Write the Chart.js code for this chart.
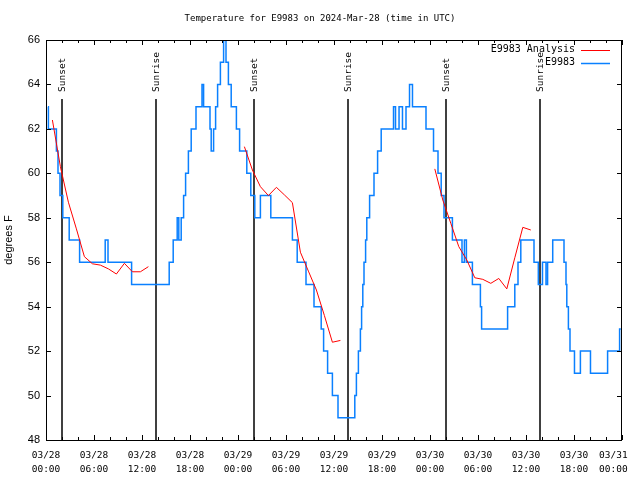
<!DOCTYPE html>
<html><head><meta charset="utf-8">
<script src="https://cdn.jsdelivr.net/npm/chart.js@4"></script>
<style>html,body{margin:0;padding:0;background:#fff}#wrap{width:640px;height:480px}</style>
</head><body><div id="wrap"><canvas id="c" width="640" height="480"></canvas></div>
<script>
const titleText = 'Temperature for E9983 on 2024-Mar-28 (time in UTC)';
const yAxisTitle = 'degrees F';
const tickDates = ['03/28','03/28','03/28','03/28','03/29','03/29','03/29','03/29','03/30','03/30','03/30','03/30','03/31'];
const tickTimes = ['00:00','06:00','12:00','18:00','00:00','06:00','12:00','18:00','00:00','06:00','12:00','18:00','00:00'];
// hours since 03/28 00:00 UTC
const sunHours = [2.0, 13.75, 26.0, 37.75, 50.0, 61.75];
const sunLabels = ['Sunset','Sunrise','Sunset','Sunrise','Sunset','Sunrise'];

const analysisLabel = 'E9983 Analysis';
const analysisHours = [0.8,1.8,2.8,3.8,4.8,5.8,6.8,7.8,8.8,9.8,10.8,11.8,12.8, 18,
  24.8,25.8,26.8,27.8,28.8,29.8,30.8,31.8,32.8,33.8,34.8,35.8,36.8, 42,
  48.6,49.6,50.6,51.6,52.6,53.6,54.6,55.6,56.6,57.6,58.6,59.6,60.6];
const analysisTemps = [62.4,60.3,58.7,57.5,56.25,55.93,55.87,55.7,55.47,55.95,55.57,55.57,55.8, null,
  61.2,60.15,59.4,59.0,59.37,59.03,58.68,56.45,55.6,54.75,53.6,52.4,52.48, null,
  60.2,58.8,57.75,56.7,56.1,55.3,55.23,55.05,55.27,54.8,56.2,57.57,57.45];

const obsLabel = 'E9983';
// hour at which each reading level begins
const obsHours = [0.25,0.3,1.3,1.5,1.75,2.1,2.9,4.2,7.4,7.75,10.7,15.4,15.9,16.4,16.6,16.9,17.2,17.45,17.8,18.15,18.75,
  19.5,19.7,20.5,20.65,20.95,21.2,21.45,21.8,22.2,22.5,22.8,23.15,23.8,24.2,25.1,25.6,26.1,26.8,28.1,30.8,31.4,32.5,33.5,
  34.4,34.7,35.2,35.8,36.5,38.6,38.8,39.05,39.3,39.45,39.6,39.75,39.95,40.1,40.45,41.0,41.45,41.9,43.44,43.69,44.13,44.56,
  45.0,45.44,45.81,47.5,48.44,49.0,49.4,49.75,50.8,52.0,52.3,52.55,53.3,54.3,54.45,57.7,58.6,59.0,59.35,61.0,61.54,62.06,
  62.5,62.7,63.34,64.75,65.0,65.1,65.3,65.5,66.06,66.8,68.06,70.2,71.7,71.85];
const obsTemps = [63,62,61,60,59,58,57,56,57,56,55,56,57,58,57,58,59,60,61,62,63,
  64,63,62,61,62,63,64,65,66,65,64,63,62,61,60,59,58,59,58,57,56,55,54,
  53,52,51,50,49,50,51,52,53,54,55,56,57,58,59,60,61,62,63,62,63,62,
  63,64,63,62,61,60,59,58,57,56,57,56,55,54,53,54,55,56,57,56,55,56,
  55,56,57,56,55,54,53,52,51,52,51,52,53,53];

const RED = '#ff0000';
const BLUE = '#0a80ff';
const MONO = '"DejaVu Sans Mono", monospace';
const SANS = '"Liberation Sans", Arial, sans-serif';

const decor = {
  id: 'decor',
  beforeDatasetsDraw(chart) {
    const {ctx, chartArea: a, scales: {x}} = chart;
    ctx.save();
    ctx.strokeStyle = '#000';
    ctx.fillStyle = '#000';
    ctx.lineWidth = 1.5;
    ctx.font = '9.5px ' + MONO;
    sunHours.forEach((h, i) => {
      const px = Math.round(x.getPixelForValue(h));
      ctx.beginPath();
      ctx.moveTo(px, a.top + 59);
      ctx.lineTo(px, a.bottom);
      ctx.stroke();
      ctx.save();
      ctx.translate(px + 1, a.top + 52);
      ctx.rotate(-Math.PI / 2);
      ctx.textAlign = 'left';
      ctx.textBaseline = 'middle';
      ctx.fillText(sunLabels[i], 0, 0);
      ctx.restore();
    });
    ctx.restore();
  },
  afterDatasetsDraw(chart) {
    const {ctx, chartArea: a, scales: {x, y}} = chart;
    ctx.save();
    ctx.strokeStyle = '#000';
    ctx.lineWidth = 1;
    ctx.strokeRect(a.left + 0.5, a.top + 0.5, a.right - a.left - 1, a.bottom - a.top);
    ctx.beginPath();
    for (let h = 0; h <= 72; h += 2) {
      const px = Math.round(x.getPixelForValue(h)) + 0.5;
      const len = (h % 6 === 0) ? 5 : 3;
      ctx.moveTo(px, a.bottom); ctx.lineTo(px, a.bottom - len);
      ctx.moveTo(px, a.top); ctx.lineTo(px, a.top + len);
    }
    for (let v = 48; v <= 66; v += 2) {
      const py = Math.round(y.getPixelForValue(v)) + 0.5;
      ctx.moveTo(a.left, py); ctx.lineTo(a.left + 5, py);
      ctx.moveTo(a.right, py); ctx.lineTo(a.right - 5, py);
    }
    ctx.stroke();

    // title
    ctx.fillStyle = '#000';
    ctx.font = '9px ' + MONO;
    ctx.textAlign = 'center';
    ctx.textBaseline = 'middle';
    ctx.fillText(titleText, chart.width / 2, 19);

    // legend
    ctx.font = '10px ' + MONO;
    ctx.textAlign = 'right';
    chart.data.datasets.forEach((ds, i) => {
      const ry = a.top + 9.5 + i * 13;
      ctx.fillStyle = '#000';
      ctx.fillText(ds.label, 575, ry);
      ctx.strokeStyle = ds.borderColor;
      ctx.lineWidth = ds.borderWidth;
      ctx.beginPath();
      ctx.moveTo(581, Math.round(ry) + 0.5);
      ctx.lineTo(610, Math.round(ry) + 0.5);
      ctx.stroke();
    });
    ctx.restore();
  }
};

new Chart(document.getElementById('c'), {
  type: 'line',
  data: {
    datasets: [
      {
        label: analysisLabel,
        data: analysisHours.map((h, i) => ({x: h, y: analysisTemps[i]})),
        borderColor: RED, borderWidth: 1, pointRadius: 0, tension: 0, spanGaps: false, fill: false
      },
      {
        label: obsLabel,
        data: obsHours.map((h, i) => ({x: h, y: obsTemps[i]})),
        borderColor: BLUE, borderWidth: 1.5, pointRadius: 0, stepped: 'before', fill: false
      }
    ]
  },
  options: {
    responsive: false,
    animation: false,
    events: [],
    layout: {padding: {top: 40, right: 18, bottom: 0, left: 0}},
    plugins: {legend: {display: false}, title: {display: false}, tooltip: {enabled: false}},
    scales: {
      x: {
        type: 'linear', min: 0, max: 72,
        grid: {display: false, drawTicks: false},
        border: {display: false},
        ticks: {
          stepSize: 6, autoSkip: false, maxRotation: 0, padding: 9, color: '#000',
          font: {family: MONO, size: 9.5, lineHeight: 1.45},
          callback: (v) => {
            const i = Math.round(v / 6);
            const pad = (i === tickDates.length - 1) ? '   ' : '';
            return [tickDates[i] + pad, tickTimes[i] + pad];
          }
        },
        afterFit: (s) => { s.height = 40; s.paddingLeft = 0; s.paddingRight = 0; }
      },
      y: {
        min: 48, max: 66,
        grid: {display: false, drawTicks: false},
        border: {display: false},
        ticks: {stepSize: 2, padding: 6, color: '#000', font: {family: SANS, size: 11}},
        title: {display: true, text: yAxisTitle, color: '#000', font: {family: SANS, size: 11}, padding: {top: 2, bottom: 0}},
        afterFit: (s) => { s.width = 46; }
      }
    }
  },
  plugins: [decor]
});
</script>
</body></html>
